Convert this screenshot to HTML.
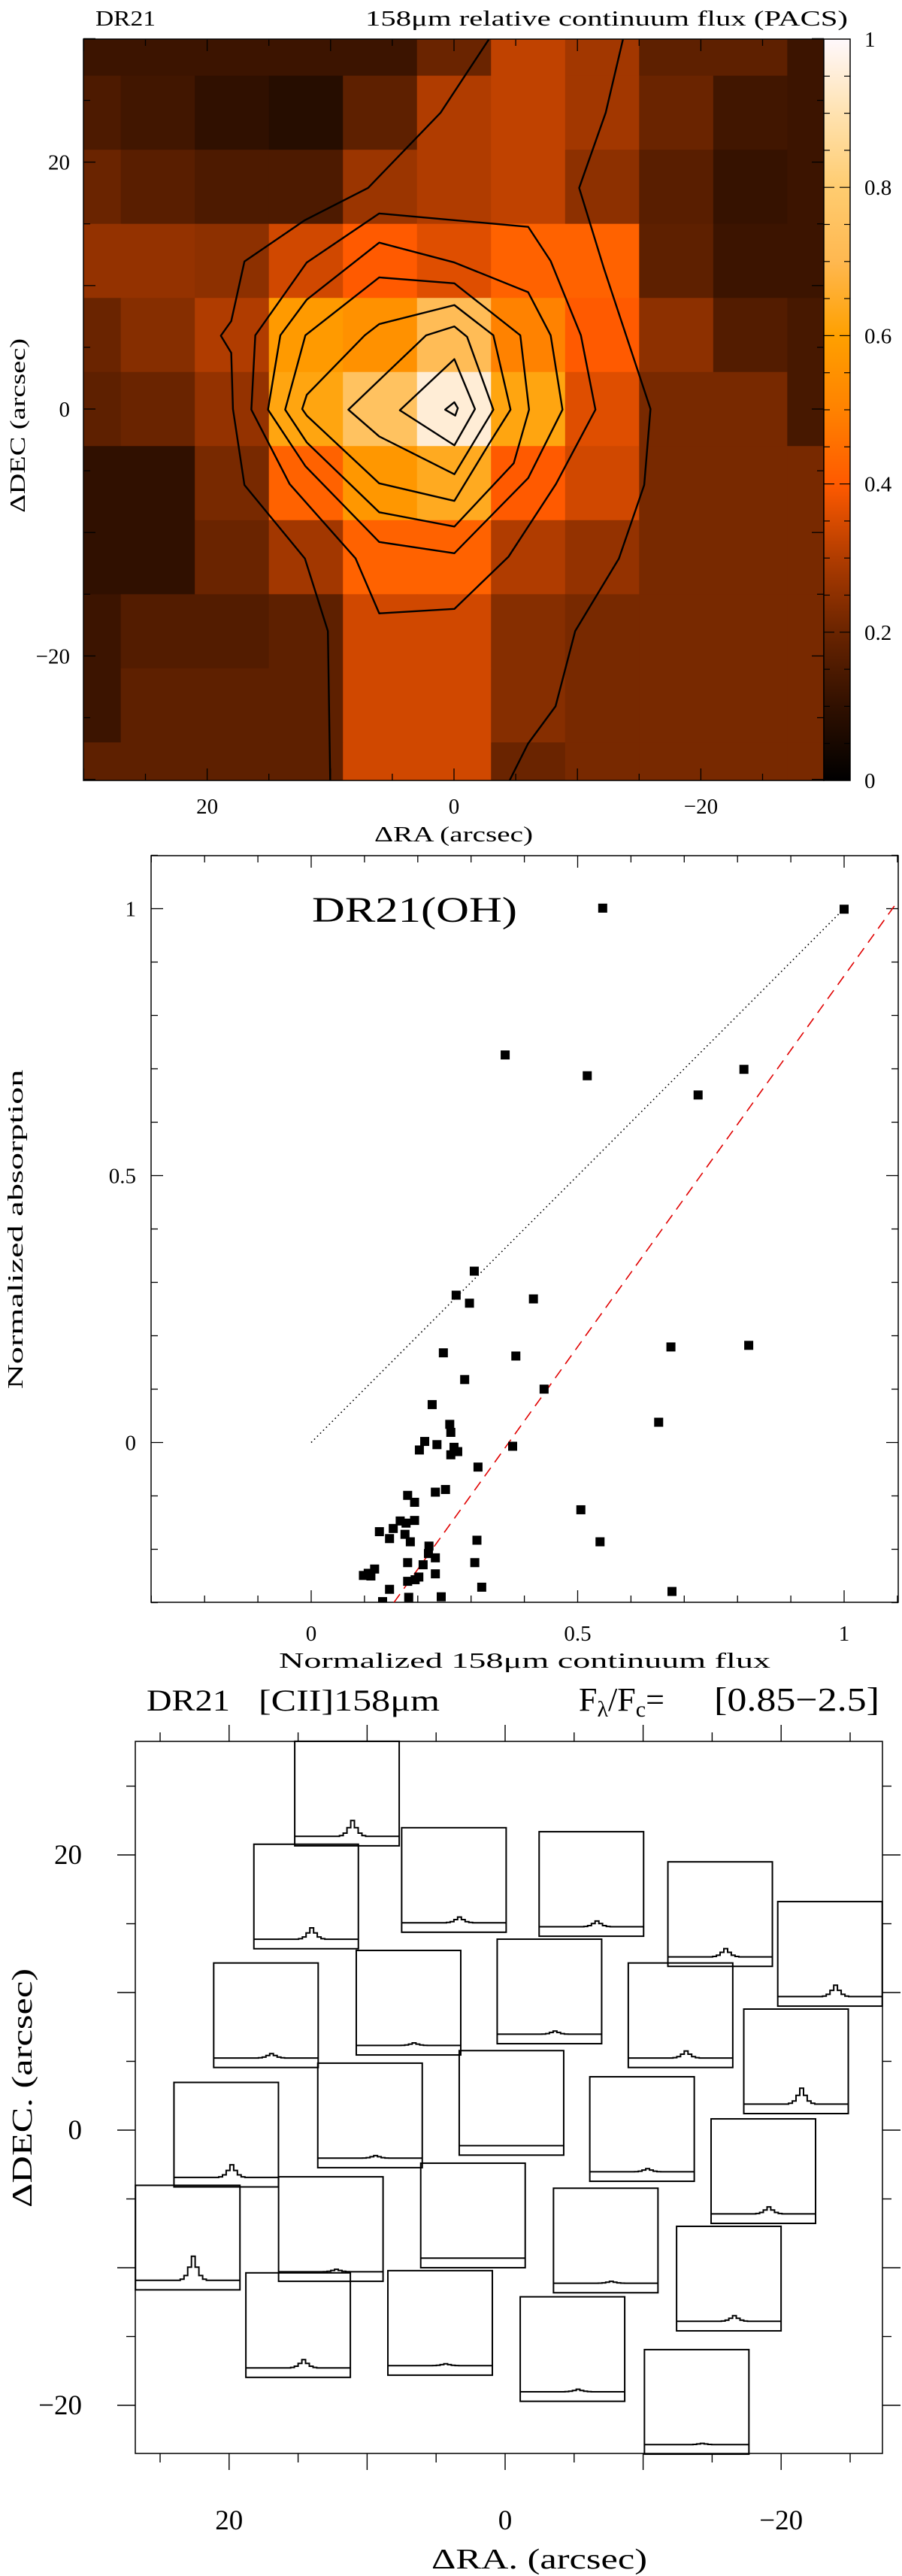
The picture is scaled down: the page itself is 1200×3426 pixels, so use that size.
<!DOCTYPE html>
<html><head><meta charset="utf-8"><title>DR21 PACS figure</title>
<style>html,body{margin:0;padding:0;background:#fff}svg{display:block}text{font-family:"Liberation Serif",serif;fill:#000}</style>
</head><body>
<svg id="fig" xmlns="http://www.w3.org/2000/svg" width="1200" height="3426" viewBox="0 0 1200 3426">
<defs>
<clipPath id="clip1"><rect x="111" y="52" width="985" height="986"/></clipPath>
<clipPath id="clip2"><rect x="201" y="1138" width="994" height="993"/></clipPath>
<linearGradient id="cbar" x1="0" y1="1" x2="0" y2="0">
<stop offset="0" stop-color="#000000"/><stop offset="0.1" stop-color="#301000"/><stop offset="0.2" stop-color="#6a2400"/><stop offset="0.3" stop-color="#b03c00"/><stop offset="0.4" stop-color="#ff5a00"/><stop offset="0.5" stop-color="#ff8200"/><stop offset="0.6" stop-color="#ffa000"/><stop offset="0.7" stop-color="#ffb850"/><stop offset="0.8" stop-color="#ffcc70"/><stop offset="0.9" stop-color="#ffe2b0"/><stop offset="1" stop-color="#fff8fc"/>
</linearGradient>
</defs>
<g id="p1"></g>
<g id="p2"></g>
<g id="p3"></g>
</svg>
<script>
// ---------- Panel 1 data ----------
const mapRA = [30,24,18,12,6,0,-6,-12,-18,-24,-30];
const mapDec = [30,24,18,12,6,0,-6,-12,-18,-24,-30];
const mapRow30 = [0.12,0.12,0.12,0.12,0.12,0.2,0.32,0.28,0.18,0.18,0.12];
const mapRow24 = [0.15,0.13,0.1,0.08,0.18,0.3,0.32,0.28,0.2,0.13,0.12];
const mapRow18 = [0.2,0.17,0.15,0.15,0.27,0.3,0.32,0.25,0.17,0.11,0.12];
const mapRow12 = [0.26,0.26,0.25,0.34,0.4,0.36,0.42,0.42,0.18,0.12,0.12];
const mapRow6 = [0.2,0.24,0.3,0.58,0.55,0.72,0.5,0.4,0.25,0.16,0.14];
const mapRow0 = [0.18,0.2,0.26,0.62,0.75,0.95,0.62,0.36,0.22,0.22,0.14];
const mapRowM6 = [0.1,0.1,0.22,0.42,0.57,0.64,0.4,0.34,0.22,0.22,0.22];
const mapRowM12 = [0.1,0.1,0.2,0.28,0.42,0.42,0.3,0.26,0.22,0.22,0.22];
const mapRowM18 = [0.12,0.16,0.16,0.18,0.34,0.34,0.24,0.22,0.22,0.22,0.22];
const mapRowM24 = [0.12,0.18,0.18,0.18,0.34,0.34,0.24,0.22,0.22,0.22,0.22];
const mapRowM30 = [0.18,0.18,0.18,0.18,0.34,0.34,0.2,0.22,0.22,0.22,0.22];
const mapRows = [mapRow30,mapRow24,mapRow18,mapRow12,mapRow6,mapRow0,mapRowM6,mapRowM12,mapRowM18,mapRowM24,mapRowM30];
const contour2 = [[16.42,-0.05],[16.1,5.97],[11.93,11.87],[6.06,15.84],[-6.01,14.76],[-7.83,11.99],[-10.28,5.97],[-11.46,-0.05],[-8.26,-6.07],[-4.41,-11.97],[-0.03,-16.19],[6.06,-16.55],[7.98,-12.09],[13.32,-6.07]];
const contour3 = [[15.07,-0.05],[14.07,5.97],[11.93,8.86],[6.06,13.48],[-0.03,11.87],[-6.01,9.46],[-7.83,5.97],[-8.79,-0.05],[-6.01,-5.59],[-0.03,-11.68],[6.06,-10.77],[12.04,-4.63]];
const contour4 = [[13.68,-0.05],[12.04,5.97],[6.06,10.66],[-0.03,10.18],[-5.37,5.97],[-6.08,-0.05],[-4.84,-4.39],[-0.03,-9.52],[6.06,-8.36],[11.93,-2.7]];
const contour5 = [[12.3,0],[11.93,1.15],[7.23,5.97],[6.06,6.88],[-0.03,8.42],[-3.19,5.97],[-4.58,-0.05],[-2.91,-2.7],[-0.03,-7.44],[6.06,-6.02],[11.93,-0.53]];
const contour6 = [[8.56,-0.05],[2.26,5.97],[-0.03,6.69],[-1.06,5.85],[-3.19,-0.05],[-0.03,-5.28],[6.06,-2.22]];
const contour7 = [[4.39,-0.1],[-0.03,4.04],[-1.7,0],[-0.03,-2.94]];
const contour8 = [[0.72,-0.05],[-0.03,0.55],[-0.31,0.07],[-0.1,-0.53]];
const contour1Left = [[-2.83,29.95],[1.09,24.0],[6.96,17.91],[12.08,15.3],[16.98,11.95],[18.05,7.12],[18.89,5.94],[18.05,4.55],[17.91,0],[16.98,-6.15],[12.08,-12.11],[10.22,-17.98],[10.03,-30.07]];
const contour1Right = [[-13.69,29.95],[-12.29,24.0],[-10.14,17.91],[-12.15,11.38],[-15.92,0],[-15.41,-6.15],[-13.36,-12.11],[-9.82,-17.98],[-8.23,-24.07],[-6.0,-27.1],[-4.51,-30.07]];
const p1TickLabels = [20,0,-20];
const cbarTickLabels = ["0","0.2","0.4","0.6","0.8","1"];

// ---------- Panel 2 data ----------
const scatterX = [0.547,1.0,0.364,0.518,0.812,0.726,0.306,0.272,0.297,0.417,0.248,0.675,0.821,0.384,0.288,0.437,0.227,0.652,0.260,0.262,0.213,0.203,0.236,0.268,0.275,0.262,0.378,0.313,0.252,0.233,0.181,0.194,0.506,0.128,0.147,0.154,0.167,0.178,0.194,0.176,0.186,0.311,0.542,0.221,0.233,0.220,0.181,0.210,0.307,0.119,0.107,0.098,0.112,0.233,0.202,0.195,0.181,0.320,0.147,0.677,0.183,0.244,0.134];
const scatterY = [1.001,0.999,0.726,0.687,0.699,0.651,0.321,0.276,0.261,0.269,0.168,0.179,0.182,0.162,0.118,0.100,0.071,0.038,0.034,0.019,0.002,-0.014,-0.004,-0.009,-0.017,-0.023,-0.007,-0.046,-0.088,-0.093,-0.099,-0.112,-0.126,-0.167,-0.180,-0.161,-0.147,-0.151,-0.146,-0.172,-0.186,-0.183,-0.186,-0.194,-0.216,-0.208,-0.225,-0.229,-0.225,-0.237,-0.245,-0.249,-0.250,-0.246,-0.252,-0.257,-0.260,-0.271,-0.275,-0.279,-0.290,-0.289,-0.298];
const dottedLine = [[0,0],[1,1]];
const dashedLine = [[0.155,-0.3],[1.1,1.013]];
const p2TickLabels = ["0","0.5","1"];
const p2TickValues = [0,0.5,1];

// ---------- Panel 3 data ----------
const boxRA = [11.46,14.42,3.71,-6.25,-15.58,-23.54,17.33,7.0,-3.21,-12.71,-21.08,9.79,-0.46,-9.92,20.21,-18.71,23.0,12.63,2.33,-7.29,-16.21,15.0,4.71,-4.88,-13.88];
const boxDec = [24.46,16.98,18.18,17.89,15.7,12.81,8.35,9.26,10.08,8.35,5.0,1.07,1.98,0.08,-0.33,-2.98,-7.81,-7.19,-6.2,-8.02,-10.79,-14.17,-14.01,-15.91,-19.75];
const boxPeak = [1.25,1.18,1.09,1.09,1.13,1.18,1.07,1.04,1.05,1.11,1.25,1.04,1.0,1.05,1.2,1.11,1.38,1.04,1.0,1.03,1.09,1.13,1.03,1.04,1.02];
const lineProfile = [0,0,0,0,0,0,0,0,0,0,0,0,0.05,0.2,0.55,1.0,0.55,0.2,0.05,0,0,0,0,0,0,0,0,0];
const p3TickLabels = [20,0,-20];

const NS = "http://www.w3.org/2000/svg";
function mk(tag, parent, attrs) {
  const e = document.createElementNS(NS, tag);
  for (const k in attrs) e.setAttribute(k, attrs[k]);
  parent.appendChild(e);
  return e;
}
function cmap(v) {
  const stops = [[0,0,0,0],[0.1,48,16,0],[0.2,106,36,0],[0.3,176,60,0],[0.4,255,90,0],[0.5,255,130,0],[0.6,255,160,0],[0.7,255,184,80],[0.8,255,204,112],[0.9,255,226,176],[1,255,248,252]];
  v = Math.max(0, Math.min(1, v));
  for (let i = 1; i < stops.length; i++) {
    if (v <= stops[i][0]) {
      const a = stops[i-1], b = stops[i], t = (v - a[0]) / (b[0] - a[0]);
      return `rgb(${Math.round(a[1]+t*(b[1]-a[1]))},${Math.round(a[2]+t*(b[2]-a[2]))},${Math.round(a[3]+t*(b[3]-a[3]))})`;
    }
  }
  return "#fff";
}

// ===== Panel 1 =====
(function(){
  const g = document.getElementById('p1');
  const L=111,R=1096,T=52,B=1038;
  const px = ra => 604 - 16.42*ra;
  const py = d => 544 - 16.42*d;
  const cells = mk('g', g, {'clip-path':'url(#clip1)'});
  
  
  mapRows.forEach((row, i) => {
    row.forEach((v, j) => {
      const x0 = px(mapRA[j]+3), x1 = px(mapRA[j]-3), y0 = py(mapDec[i]+3), y1 = py(mapDec[i]-3);
      const r = mk('rect', cells, {x:x0, y:y0, width:x1-x0+0.6, height:y1-y0+0.6, fill:cmap(v)});
      
      
    });
  });
  const cg = mk('g', g, {'clip-path':'url(#clip1)', fill:'none', stroke:'#000', 'stroke-width':2.4, 'stroke-linejoin':'round'});
  
  
  [contour2,contour3,contour4,contour5,contour6,contour7,contour8].forEach(c => {
    const p = mk('polygon', cg, {points: c.map(q => px(q[0])+','+py(q[1])).join(' ')});
    
    
  });
  [contour1Left, contour1Right].forEach(c => {
    const p = mk('polyline', cg, {points: c.map(q => px(q[0])+','+py(q[1])).join(' ')});
    
    
  });
  const fr = mk('rect', g, {x:L,y:T,width:R-L,height:B-T,fill:'none',stroke:'#000','stroke-width':1.5});
  
  
  const tg = mk('g', g, {stroke:'#000','stroke-width':1.3});
  
  
  for (let v = -30; v <= 30; v += 5) {
    const len = (v % 10 === 0) ? 16 : 9;
    const x = px(v), y = py(v);
    mk('line', tg, {x1:x,y1:T,x2:x,y2:T+len}); mk('line', tg, {x1:x,y1:B,x2:x,y2:B-len});
    mk('line', tg, {x1:L,y1:y,x2:L+len,y2:y}); mk('line', tg, {x1:R,y1:y,x2:R-len,y2:y});
  }
  p1TickLabels.forEach(v => {
    const t1 = mk('text', g, {x:px(v), y:1082, 'font-size':29, 'text-anchor':'middle'});
    t1.textContent = v < 0 ? '\u2212'+Math.abs(v) : String(v);
    
    
    const t2 = mk('text', g, {x:93, y:py(v)+10, 'font-size':29, 'text-anchor':'end'});
    t2.textContent = v < 0 ? '\u2212'+Math.abs(v) : String(v);
    
    
  });
  const cb = mk('rect', g, {x:1096,y:T,width:35,height:B-T,fill:'url(#cbar)',stroke:'#000','stroke-width':1.5});
  
  
  const cbt = mk('g', g, {stroke:'#000','stroke-width':1.2});
  
  
  for (let i = 1; i < 20; i++) {
    const y = B - (B-T)*i/20;
    const len = (i % 4 === 0) ? 14 : 8;
    mk('line', cbt, {x1:1096,y1:y,x2:1096+len,y2:y}); mk('line', cbt, {x1:1131,y1:y,x2:1131-len,y2:y});
  }
  cbarTickLabels.forEach((s, i) => {
    const t = mk('text', g, {x:1150, y:B-(B-T)*i/5+10, 'font-size':29});
    t.textContent = s;
    
    
  });
  let t = mk('text', g, {x:127, y:34, 'font-size':28, textLength:80, lengthAdjust:'spacingAndGlyphs'}); t.textContent = 'DR21';
   
  t = mk('text', g, {x:486, y:34, 'font-size':29, textLength:642, lengthAdjust:'spacingAndGlyphs'}); t.textContent = '158\u03bcm relative continuum flux (PACS)';
   
  t = mk('text', g, {x:498, y:1119, 'font-size':29, textLength:211, lengthAdjust:'spacingAndGlyphs'}); t.textContent = '\u0394RA (arcsec)';
   
  t = mk('text', g, {x:0, y:0, 'font-size':29, 'text-anchor':'middle', textLength:232, lengthAdjust:'spacingAndGlyphs', transform:'translate(33,566) rotate(-90)'}); t.textContent = '\u0394DEC (arcsec)';
   
})();

// ===== Panel 2 =====
(function(){
  const g = document.getElementById('p2');
  const L=201,R=1195,T=1138,B=2131;
  const px = x => 414 + 709*x;
  const py = y => 1918.5 - 710*y;
  const fr = mk('rect', g, {x:L,y:T,width:R-L,height:B-T,fill:'none',stroke:'#000','stroke-width':1.5});
  
  
  const tg = mk('g', g, {stroke:'#000','stroke-width':1.3});
  
  
  for (let i = -3; i <= 11; i++) {
    const v = i/10, len = (i % 5 === 0) ? 16 : 9;
    mk('line', tg, {x1:px(v),y1:T,x2:px(v),y2:T+len}); mk('line', tg, {x1:px(v),y1:B,x2:px(v),y2:B-len});
    mk('line', tg, {x1:L,y1:py(v),x2:L+len,y2:py(v)}); mk('line', tg, {x1:R,y1:py(v),x2:R-len,y2:py(v)});
  }
  p2TickValues.forEach((v, i) => {
    const t1 = mk('text', g, {x:px(v), y:2182, 'font-size':29, 'text-anchor':'middle'});
    t1.textContent = p2TickLabels[i];
     
    const t2 = mk('text', g, {x:181, y:py(v)+10, 'font-size':29, 'text-anchor':'end'});
    t2.textContent = p2TickLabels[i];
     
  });
  const lg = mk('g', g, {'clip-path':'url(#clip2)'});
  let l = mk('line', lg, {x1:px(dottedLine[0][0]),y1:py(dottedLine[0][1]),x2:px(dottedLine[1][0]),y2:py(dottedLine[1][1]),stroke:'#000','stroke-width':1.6,'stroke-dasharray':'1.6 4'});
   
  l = mk('line', lg, {x1:px(dashedLine[0][0]),y1:py(dashedLine[0][1]),x2:px(dashedLine[1][0]),y2:py(dashedLine[1][1]),stroke:'#e00000','stroke-width':1.6,'stroke-dasharray':'14 9'});
   
  const sg = mk('g', lg, {fill:'#000'});
   
  scatterX.forEach((x, i) => {
    const r = mk('rect', sg, {x:px(x)-6, y:py(scatterY[i])-6, width:12, height:12});
     
  });
  let t = mk('text', g, {x:415, y:1226, 'font-size':48, textLength:273, lengthAdjust:'spacingAndGlyphs'}); t.textContent = 'DR21(OH)';
   
  t = mk('text', g, {x:371, y:2218, 'font-size':29, textLength:654, lengthAdjust:'spacingAndGlyphs'}); t.textContent = 'Normalized 158\u03bcm continuum flux';
   
  t = mk('text', g, {x:0, y:0, 'font-size':29, 'text-anchor':'middle', textLength:425, lengthAdjust:'spacingAndGlyphs', transform:'translate(30,1635) rotate(-90)'}); t.textContent = 'Normalized absorption';
   
})();

// ===== Panel 3 =====
(function(){
  const g = document.getElementById('p3');
  const L=180,R=1174,T=2316,B=3263;
  const px = ra => 672 - 18.36*ra;
  const py = d => 2833 - 18.3*d;
  const fr = mk('rect', g, {x:L,y:T,width:R-L,height:B-T,fill:'none',stroke:'#000','stroke-width':1.5});
   
  const tg = mk('g', g, {stroke:'#000','stroke-width':1.4});
   
  for (let v = -25; v <= 25; v += 5) {
    const len = (v % 10 === 0) ? 22 : 12, x = px(v);
    mk('line', tg, {x1:x,y1:T,x2:x,y2:T-len}); mk('line', tg, {x1:x,y1:B,x2:x,y2:B+len});
  }
  for (let v = -20; v <= 25; v += 5) {
    const len = (v % 10 === 0) ? 24 : 12, y = py(v);
    mk('line', tg, {x1:L,y1:y,x2:L-len,y2:y}); mk('line', tg, {x1:R,y1:y,x2:R+len,y2:y});
  }
  p3TickLabels.forEach(v => {
    const s = v < 0 ? '\u2212'+Math.abs(v) : String(v);
    const t1 = mk('text', g, {x:px(v), y:3364, 'font-size':37, 'text-anchor':'middle'}); t1.textContent = s;
     
    const t2 = mk('text', g, {x:109, y:py(v)+12, 'font-size':37, 'text-anchor':'end'}); t2.textContent = s;
     
  });
  const W = 139, H = 139, ymin = 0.85, ymax = 2.5, n = lineProfile.length;
  boxRA.forEach((ra, i) => {
    const bx = px(ra) - W/2, by = py(boxDec[i]) - H/2;
    const bg = mk('g', g, {});
     
    mk('rect', bg, {x:bx, y:by, width:W, height:H, fill:'none', stroke:'#000', 'stroke-width':2});
    let d = '';
    for (let k = 0; k < n; k++) {
      const val = 1 + (boxPeak[i]-1)*lineProfile[k];
      const y = by + H - (val - ymin)/(ymax - ymin)*H;
      const x0 = bx + W*k/n, x1 = bx + W*(k+1)/n;
      d += (k === 0 ? 'M' : 'L') + x0.toFixed(1) + ',' + y.toFixed(1) + 'L' + x1.toFixed(1) + ',' + y.toFixed(1);
    }
    const sp = mk('path', bg, {d:d, fill:'none', stroke:'#000', 'stroke-width':2});
     
  });
  let t = mk('text', g, {x:195, y:2275, 'font-size':40, textLength:111, lengthAdjust:'spacingAndGlyphs'}); t.textContent = 'DR21';
   
  t = mk('text', g, {x:344, y:2275, 'font-size':40, textLength:241, lengthAdjust:'spacingAndGlyphs'}); t.textContent = '[CII]158\u03bcm';
   
  t = mk('text', g, {x:770, y:2275, 'font-size':44});
  t.innerHTML = 'F<tspan font-size="30" dy="8">\u03bb</tspan><tspan dy="-8">/F</tspan><tspan font-size="30" dy="8">c</tspan><tspan dy="-8">=</tspan>';
   
  t = mk('text', g, {x:950, y:2275, 'font-size':44, textLength:220, lengthAdjust:'spacingAndGlyphs'}); t.textContent = '[0.85\u22122.5]';
   
  t = mk('text', g, {x:574, y:3416, 'font-size':38, textLength:287, lengthAdjust:'spacingAndGlyphs'}); t.textContent = '\u0394RA. (arcsec)';
   
  t = mk('text', g, {x:0, y:0, 'font-size':38, 'text-anchor':'middle', textLength:318, lengthAdjust:'spacingAndGlyphs', transform:'translate(42,2777) rotate(-90)'}); t.textContent = '\u0394DEC. (arcsec)';
   
})();
</script>
</body></html>
